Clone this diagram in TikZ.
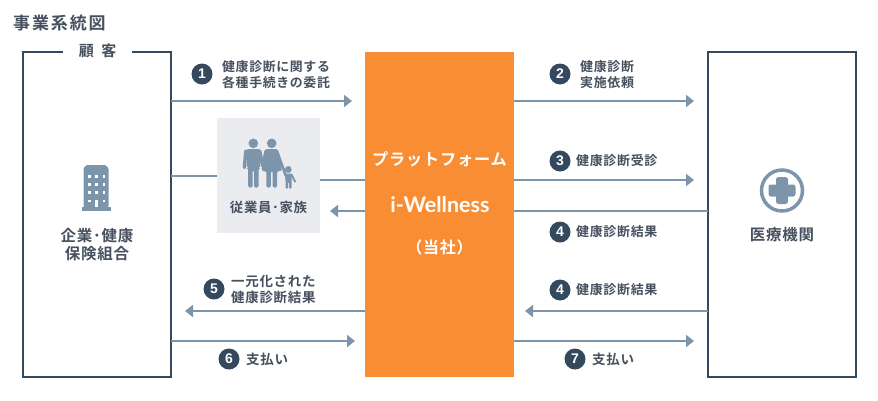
\documentclass[tikz,border=0pt]{standalone}
\usepackage{fontspec}
\setmainfont{Noto Sans CJK JP Bold}[LetterSpace=5]
\newfontfamily\latinfont{Lato}
\newfontfamily\digitfont{Liberation Sans Bold}
\definecolor{navy}{HTML}{34495E}
\definecolor{txt}{HTML}{46505E}
\definecolor{arrowc}{HTML}{7C95AB}
\definecolor{orangeb}{HTML}{F98D33}
\definecolor{panel}{HTML}{EBECF0}
\usetikzlibrary{arrows.meta}
\tikzset{
  frame/.style={draw=navy,line width=2pt},
  conn/.style={draw=arrowc,line width=2pt},
  arrowline/.style={conn,-{Triangle[length=8pt,width=12pt]}},
  badge/.style={circle,fill=navy,text=white,minimum size=21pt,inner sep=0pt,font=\digitfont\fontsize{14}{14}\selectfont},
  lab/.style={text=txt,align=left,anchor=west,inner sep=0pt,font=\fontsize{13}{15.5}\selectfont},
  center lab/.style={text=txt,align=center,inner sep=0pt,font=\fontsize{15.5}{18}\selectfont},
  icon/.style={fill=arrowc,draw=none},
  limb/.style={draw=arrowc,line cap=round},
  white text/.style={text=white,inner sep=0pt}
}
\begin{document}
\begin{tikzpicture}[x=1pt,y=-1pt]
\useasboundingbox (0,0) rectangle (878,400);
\node[text=txt,anchor=west,inner sep=0pt,font=\fontsize{17}{17}\addfontfeature{LetterSpace=11}\selectfont] (title) at (13,23) {事業系統図};
% customer frame
\coordinate (cgapL) at (63,52);
\coordinate (cgapR) at (132,52);
\coordinate (cTL) at (23,52);
\coordinate (cTR) at (171,52);
\coordinate (cBL) at (23,377);
\coordinate (cBR) at (171,377);
\draw[frame] (cgapL) -- (cTL) -- (cBL) -- (cBR) -- (cTR) -- (cgapR);
\node[center lab,font=\fontsize{15}{15}\selectfont] (kokyaku) at (97.5,51) {顧\hspace{0.5em}客};
% medical frame
\node[frame,minimum width=148pt,minimum height=325pt,inner sep=0pt,outer sep=0pt] (med) at (782,214.5) {};
% platform
\node[fill=orangeb,minimum width=149pt,minimum height=325pt,inner sep=0pt,outer sep=0pt] (plat) at (439.5,214.5) {};
\node[white text,font=\fontsize{16.2}{16.2}\selectfont] (pf1) at (439.5,159) {プラットフォーム};
\node[white text,font=\latinfont\bfseries\fontsize{21.5}{21.5}\selectfont] (pf2) at (440,205) {i-Wellness};
\node[white text,font=\fontsize{16}{16}\selectfont] (pf3) at (439.5,247) {（当社）};
% family panel
\node[fill=panel,minimum width=103pt,minimum height=115pt,inner sep=0pt,outer sep=0pt] (fam) at (268.5,175.5) {};
\node[text=txt,inner sep=0pt,font=\fontsize{13.4}{13.4}\selectfont] (famlab) at (268.5,207) {従業員･家族};
% people icon
\begin{scope}
\fill[icon] (253.3,143.3) circle (4.8);
\fill[icon] (271.7,143.3) circle (4.8);
\fill[icon] (288.3,169.5) circle (3.4);
% father
\fill[icon,rounded corners=1.5pt] (246.5,149) -- (260.5,149) -- (260,168) -- (258.5,168) -- (258.5,187.5) -- (254,187.5) -- (254,170) -- (252.6,170) -- (252.6,187.5) -- (248.1,187.5) -- (248.1,168) -- (247,168) -- cycle;
\draw[limb,line width=3.4pt] (245.8,151) -- (244.4,167.5);
\draw[limb,line width=3.2pt] (260,151) -- (262.5,166);
% mother
\fill[icon,rounded corners=1.5pt] (265.5,149) -- (277.5,149) -- (282,171) -- (277,171) -- (277,187.5) -- (272.6,187.5) -- (272.6,171) -- (270.8,171) -- (270.8,187.5) -- (266.4,187.5) -- (266.4,171) -- (261.5,171) -- cycle;
\draw[limb,line width=3.2pt] (266,151) -- (262.5,166);
\draw[limb,line width=2.6pt] (277,151) -- (285.5,175);
% child
\fill[icon,rounded corners=1pt] (284.5,173.5) -- (292,173.5) -- (291.5,180) -- (291.5,188.5) -- (289,188.5) -- (289,182) -- (288,182) -- (288,188.5) -- (285.5,188.5) -- (285.5,180) -- cycle;
\draw[limb,line width=2pt] (291.5,174.5) -- (295,181.5);
\end{scope}
% building icon
\begin{scope}
\fill[icon,rounded corners=1pt] (83.5,168) -- (86.5,165) -- (105.5,165) -- (108.5,168) -- (108.5,207) -- (83.5,207) -- cycle;
\fill[icon] (82,207) rectangle (111,210.5);
\foreach \yy in {175,183,191} \foreach \xx in {88,95,102.5}
  \fill[white] (\xx,\yy) rectangle +(2.8,2.8);
\fill[white] (88,199.5) rectangle +(2.8,2.8);
\fill[white] (102.5,199.5) rectangle +(2.8,2.8);
\fill[white] (95,199.5) rectangle +(2.8,7.5);
\end{scope}
\node[center lab] (corp) at (97,245) {企業･健康\\保険組合};
% cross icon
\draw[draw=arrowc,line width=3.5pt] (782,190.5) circle (20.5);
\fill[icon,rounded corners=2.5pt] (776,177) rectangle (788,204);
\fill[icon,rounded corners=2.5pt] (768.5,184.5) rectangle (795.5,196.5);
\node[center lab] (medlab) at (782,235) {医療機関};
% coordinates
\coordinate (a1s) at (171,101); \coordinate (a1e) at (352,101);
\coordinate (a2s) at (514,101); \coordinate (a2e) at (694,101);
\coordinate (a3s) at (514,180); \coordinate (a3e) at (694,180);
\coordinate (a4s) at (708,211); \coordinate (a4e) at (330,211);
\coordinate (a4bs) at (708,311); \coordinate (a4be) at (525,311);
\coordinate (a5s) at (365,311); \coordinate (a5e) at (185,311);
\coordinate (a6s) at (171,341); \coordinate (a6e) at (355,341);
\coordinate (a7s) at (514,341); \coordinate (a7e) at (694,341);
\coordinate (famlinea) at (171,176);
\coordinate (famlineb) at (320,180);
% arrows
\draw[arrowline] (a1s) -- (a1e);
\draw[arrowline] (a2s) -- (a2e);
\draw[arrowline] (a3s) -- (a3e);
\draw[arrowline] (a6s) -- (a6e);
\draw[arrowline] (a7s) -- (a7e);
\draw[arrowline] (a4bs) -- (a4be);
\draw[arrowline] (a5s) -- (a5e);
\draw[arrowline] (plat.west |- a4e) -- (a4e);
\draw[conn] (med.west |- a4s) -- (plat.east |- a4s);
\draw[conn] (famlinea) -- (fam.west |- famlinea);
\draw[conn] (fam.east |- famlineb) -- (plat.west |- famlineb);
% badges and labels
\node[badge] (b1) at (202,74) {1};
\node[lab,font=\fontsize{12.9}{16}\selectfont] (l1) at (222,74.5) {健康診断に関する\\各種手続きの委託};
\node[badge] (b2) at (560,74) {2};
\node[lab] (l2) at (580,74.5) {健康診断\\実施依頼};
\node[badge] (b3) at (560,161) {3};
\node[lab] (l3) at (576,161) {健康診断受診};
\node[badge] (b4) at (560,232) {4};
\node[lab] (l4) at (576,232) {健康診断結果};
\node[badge] (b4b) at (560,290) {4};
\node[lab] (l4b) at (576,290) {健康診断結果};
\node[badge] (b5) at (214,289) {5};
\node[lab,font=\fontsize{13.5}{16}\selectfont] (l5) at (231,289.5) {一元化された\\健康診断結果};
\node[badge] (b6) at (229,359) {6};
\node[lab,font=\fontsize{13.5}{16}\selectfont] (l6) at (246,359) {支払い};
\node[badge] (b7) at (575,359) {7};
\node[lab,font=\fontsize{13.5}{16}\selectfont] (l7) at (592,359) {支払い};
\end{tikzpicture}
\end{document}
